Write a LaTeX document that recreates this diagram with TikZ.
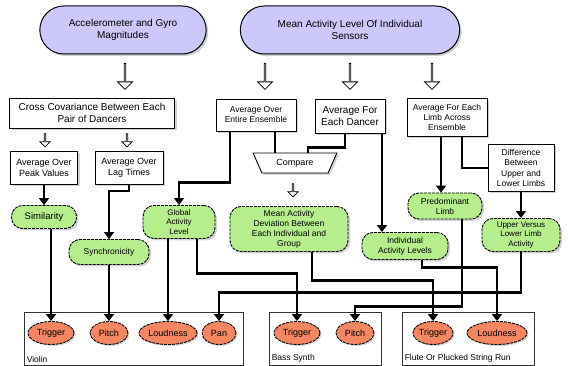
\documentclass[tikz,border=0pt]{standalone}
\usepackage{fontspec}
\setmainfont{Liberation Sans}
\usetikzlibrary{positioning,shapes,shadows,arrows.meta}
\definecolor{lavender}{RGB}{204,200,250}
\definecolor{leaf}{RGB}{182,238,142}
\definecolor{salmon}{RGB}{244,134,98}
\tikzstyle{source}=[
	rounded rectangle,
	draw=black,
	line width=1pt,
	fill=lavender,
	align=center,
	minimum height=48pt,
	font=\fontsize{10}{12}\selectfont,
	drop shadow={shadow xshift=2pt,shadow yshift=-2pt,fill=black!40}
	]
\tikzstyle{process}=[
	rectangle,
	draw=black,
	line width=0.9pt,
	fill=white,
	align=center,
	inner sep=1pt,
	font=\fontsize{9}{10.5}\selectfont,
	drop shadow={shadow xshift=2pt,shadow yshift=-2pt,fill=black!35}
	]
\tikzstyle{feature}=[
	rectangle,
	rounded corners=11pt,
	draw=black,
	line width=0.9pt,
	dash pattern=on 3pt off 1pt,
	fill=leaf,
	align=center,
	inner sep=1pt,
	font=\fontsize{8.5}{10}\selectfont,
	drop shadow={shadow xshift=2pt,shadow yshift=-2pt,fill=black!35}
	]
\tikzstyle{param}=[
	ellipse,
	draw=black,
	line width=0.9pt,
	dash pattern=on 3pt off 1pt,
	fill=salmon,
	inner sep=0pt,
	minimum height=23pt,
	font=\fontsize{9}{10}\selectfont,
	drop shadow={shadow xshift=1.5pt,shadow yshift=-1.5pt,fill=black!30}
	]
\tikzstyle{instrument}=[
	rectangle,
	draw=black!80,
	line width=0.8pt,
	fill=white,
	minimum height=53pt
	]
\tikzstyle{hollow}=[
	single arrow,
	draw=black,
	line width=0.8pt,
	fill=white,
	shape border rotate=270,
	inner sep=0pt,
	minimum width=15pt,
	minimum height=26pt,
	single arrow head extend=3.5pt
	]
\tikzstyle{wire}=[line width=2.3pt,-{Triangle[length=7pt,width=10pt]}]
\tikzstyle{link}=[line width=2.3pt]

\begin{document}
\begin{tikzpicture}[x=1pt,y=-1pt]
	\useasboundingbox (0,0) rectangle (568,366);

	\node (acc) [source, minimum width=173pt] at (123,30) {Accelerometer and Gyro\\Magnitudes};
	\node (mean) [source, minimum width=226pt] at (350,30) {Mean Activity Level Of Individual\\Sensors};

	\node (cov) [process, minimum width=165pt, minimum height=30pt, font=\fontsize{10}{11.5}\selectfont] at (92,113) {Cross Covariance Between Each\\Pair of Dancers};
	\node (ens) [process, minimum width=80pt, minimum height=32pt, font=\fontsize{8.5}{10}\selectfont] at (256,115) {Average Over\\Entire Ensemble};
	\node (dancer) [process, minimum width=70pt, minimum height=34pt, font=\fontsize{10}{12}\selectfont] at (350,116) {Average For\\Each Dancer};
	\node (limb) [process, minimum width=80pt, minimum height=38pt, font=\fontsize{8.5}{10}\selectfont] at (447,117) {Average For Each\\Limb Across\\Ensemble};
	\node (diff) [process, minimum width=66pt, minimum height=47pt, font=\fontsize{8.5}{10.5}\selectfont] at (521,168) {Difference\\Between\\Upper and\\Lower Limbs};
	\node (peak) [process, minimum width=67pt, minimum height=33pt] at (44,168) {Average Over\\Peak Values};
	\node (lag) [process, minimum width=68pt, minimum height=33pt] at (129,168) {Average Over\\Lag Times};
	\node (cmp) [trapezium, draw=black, line width=0.9pt, fill=white, shape border rotate=180,
		trapezium stretches=true, trapezium left angle=63, trapezium right angle=63,
		minimum width=84pt, minimum height=20pt,
		inner sep=1pt, font=\fontsize{9}{10}\selectfont,
		drop shadow={shadow xshift=2pt,shadow yshift=-2pt,fill=black!35}] at (295,163) {Compare};

	\node (sim) [feature, minimum width=65pt, minimum height=23pt, font=\fontsize{9.5}{11}\selectfont] at (44,217) {Similarity};
	\node (sync) [feature, minimum width=80pt, minimum height=25pt] at (109,252) {Synchronicity};
	\node (glob) [feature, minimum width=72pt, minimum height=33pt, font=\fontsize{8}{9.5}\selectfont] at (179,222) {Global\\Activity\\Level};
	\node (dev) [feature, minimum width=118pt, minimum height=45pt] at (289,229) {Mean Activity\\Deviation Between\\Each Individual and\\Group};
	\node (indiv) [feature, minimum width=86pt, minimum height=27pt] at (405,246) {Individual\\Activity Levels};
	\node (pred) [feature, minimum width=74pt, minimum height=26pt] at (445,206) {Predominant\\Limb};
	\node (upper) [feature, minimum width=78pt, minimum height=33pt, font=\fontsize{8}{9.5}\selectfont] at (521,235) {Upper Versus\\Lower Limb\\Activity};

	\node (violin) [instrument, minimum width=219pt] at (133.5,339) {};
	\node (bass) [instrument, minimum width=112pt] at (325,339) {};
	\node (flute) [instrument, minimum width=132pt] at (468,339) {};
	\node (violinlbl) [anchor=south west, inner sep=3pt, font=\fontsize{8.5}{10}\selectfont] at (violin.south west) {Violin};
	\node (basslbl) [anchor=south west, inner sep=3pt, font=\fontsize{8.5}{10}\selectfont] at (bass.south west) {Bass Synth};
	\node (flutelbl) [anchor=south west, inner sep=3pt, font=\fontsize{8.5}{10}\selectfont] at (flute.south west) {Flute Or Plucked String Run};

	\node (vt) [param, minimum width=46pt] at (51,333) {Trigger};
	\node (vp) [param, minimum width=38pt] at (109,333) {Pitch};
	\node (vl) [param, minimum width=58pt] at (168,333) {Loudness};
	\node (vpan) [param, minimum width=34pt] at (219,333) {Pan};
	\node (bt) [param, minimum width=46pt] at (297,333) {Trigger};
	\node (bp) [param, minimum width=38pt] at (355,333) {Pitch};
	\node (ft) [param, minimum width=40pt] at (433,333) {Trigger};
	\node (fl) [param, minimum width=60pt] at (497,333) {Loudness};

	\node (accdown) [hollow] at (125,76) {};
	\node (ensdown) [hollow] at (265,76) {};
	\node (dancerdown) [hollow] at (350,76) {};
	\node (limbdown) [hollow] at (432,76) {};
	\node (peakdown) [hollow, minimum width=10pt, minimum height=13pt, single arrow head extend=2.5pt] at (45,140) {};
	\node (lagdown) [hollow, minimum width=10pt, minimum height=13pt, single arrow head extend=2.5pt] at (127,140) {};
	\node (cmpdown) [hollow, minimum width=10pt, minimum height=13pt, single arrow head extend=2.5pt] at (293,190) {};

	\draw[wire] (peak.south) -- (sim.north);
	\draw[wire] (lag.south) -- ++(0,6) -| (sync.north);
	\draw[wire] (sim.south -| vt.north) -- (vt.north);
	\draw[wire] (sync.south) -- (vp.north);
	\draw[wire] ([xshift=-26pt]ens.south) -- ++(0,51) -| (glob.north);
	\draw[wire] (glob.south -| vl.north) -- (vl.north);
	\draw[wire] ([xshift=18pt]glob.south) -- ++(0,34.5) -| (bt.north);
	\draw[wire] ([xshift=23pt]dev.south) -- ++(0,28.5) -| (ft.north);
	\draw[wire] ([xshift=32pt]dancer.south) -- ([xshift=32pt]dancer.south |- indiv.north);
	\draw[link] ([xshift=-5pt]dancer.south) -- ++(0,14) -| ([xshift=13pt]cmp.north);
	\draw[link] ([xshift=19pt]ens.south) -- ([xshift=19pt]ens.south |- cmp.north);
	\draw[wire] ([xshift=-6pt]limb.south) -- ([xshift=-6pt]limb.south |- pred.north);
	\draw[link] ([xshift=15pt]limb.south) |- (diff.west);
	\draw[wire] (diff.south) -- (upper.north);
	\draw[wire] ([xshift=17pt]indiv.south) -- ++(0,7.5) -| (fl.north);
	\draw[wire] ([xshift=17pt]pred.south) -- ++(0,87) -| (bp.north);
	\draw[wire] (upper.south) -- ++(0,40.5) -| (vpan.north);

\end{tikzpicture}
\end{document}
